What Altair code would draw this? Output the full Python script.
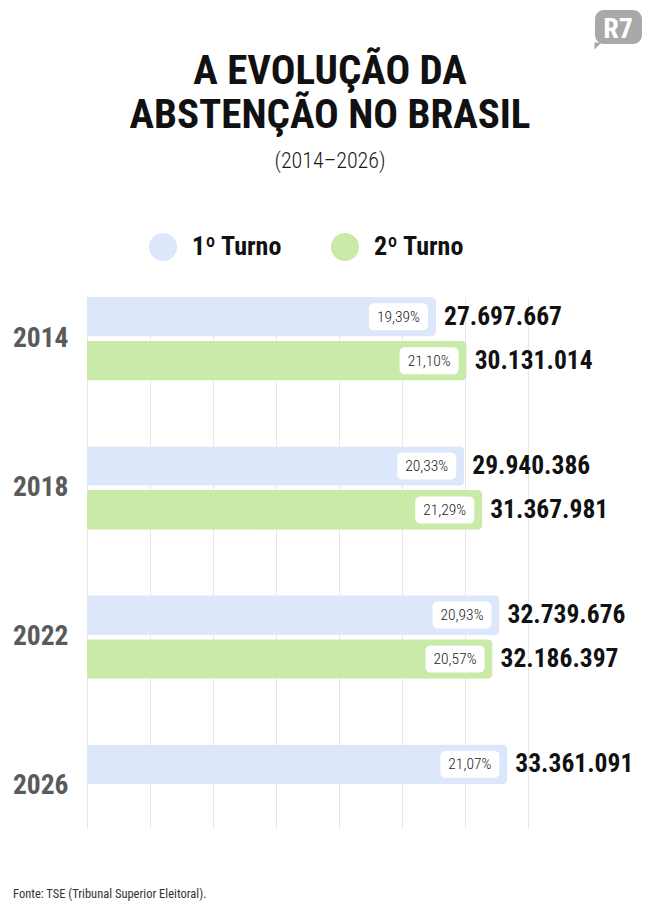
import altair as alt
import pandas as pd

# Abstenção por ano e turno (TSE)
years = ["2014", "2018", "2022", "2026"]
rounds = ["1º Turno", "2º Turno"]
first_round = [27697667, 29940386, 32739676, 33361091]
second_round = [30131014, 31367981, 32186397, None]
first_pct = [19.39, 20.33, 20.93, 21.07]
second_pct = [21.10, 21.29, 20.57, None]

grid_values = [0, 5_000_000, 10_000_000, 15_000_000, 20_000_000,
               25_000_000, 30_000_000, 35_000_000]

BLUE = "#dde7fb"
GREEN = "#c9eaa9"
NARROW = "'Roboto Condensed', 'DejaVu Sans Condensed', Roboto, sans-serif"

rows = []
for i, year in enumerate(years):
    for turno, vals, pcts in ((rounds[0], first_round, first_pct),
                              (rounds[1], second_round, second_pct)):
        if vals[i] is None:
            continue
        rows.append({
            "ano": year,
            "turno": turno,
            "abstencao": vals[i],
            "rotulo": f"{vals[i]:,}".replace(",", "."),
            "pct": f"{pcts[i]:.2f}".replace(".", ",") + "%",
        })
df = pd.DataFrame(rows)

W, H = 441, 531

x_enc = alt.X(
    "abstencao:Q",
    scale=alt.Scale(domain=[0, 35_000_000], nice=False, zero=True),
    axis=alt.Axis(values=grid_values, labels=False, ticks=False, domain=False,
                  grid=True, gridColor="#e8e8e8", gridWidth=1, title=None),
)
y_enc = alt.Y(
    "ano:N",
    sort=years,
    scale=alt.Scale(paddingInner=0.44, paddingOuter=0),
    axis=alt.Axis(title=None, ticks=False, domain=False, labelFont=NARROW,
                  labelFontWeight="bold", labelFontSize=27.5, labelColor="#5a5a5a",
                  labelPadding=19),
)
yoff_enc = alt.YOffset("turno:N", sort=rounds,
                       scale=alt.Scale(domain=rounds, paddingInner=0.1, paddingOuter=0))

base = alt.Chart(df)

bars = base.mark_bar(cornerRadiusEnd=5).encode(
    x=x_enc,
    y=y_enc,
    yOffset=yoff_enc,
    color=alt.Color(
        "turno:N",
        scale=alt.Scale(domain=rounds, range=[BLUE, GREEN]),
        legend=alt.Legend(
            orient="none", legendX=62, legendY=-64, direction="horizontal",
            title=None, symbolType="circle", symbolSize=784, symbolStrokeWidth=0,
            labelFont=NARROW, labelFontWeight="bold", labelFontSize=26,
            labelColor="#111111", labelOffset=15, columnPadding=48, padding=0,
        ),
    ),
)

pct_box = base.mark_bar(color="white", cornerRadius=5, xOffset=-67, x2Offset=-8,
                        size=27).encode(
    x="abstencao:Q",
    x2=alt.X2("abstencao:Q"),
    y=alt.Y("ano:N", sort=years),
    yOffset=alt.YOffset("turno:N", sort=rounds),
)

pct_text = base.mark_text(font=NARROW, fontSize=15.5, fontWeight=300,
                          color="#1a1a1a", align="center", baseline="middle",
                          dx=-37.5).encode(
    x="abstencao:Q",
    y=alt.Y("ano:N", sort=years),
    yOffset=alt.YOffset("turno:N", sort=rounds),
    text="pct:N",
)

value_text = base.mark_text(font=NARROW, fontWeight="bold", fontSize=25.5,
                            color="#111111", align="left", baseline="middle",
                            dx=8).encode(
    x="abstencao:Q",
    y=alt.Y("ano:N", sort=years),
    yOffset=alt.YOffset("turno:N", sort=rounds),
    text="rotulo:N",
)


def label(text, x, y, **kw):
    return alt.Chart(pd.DataFrame({"t": [text]})).mark_text(**kw).encode(
        text="t:N", x=alt.value(x), y=alt.value(y))


title1 = label("A EVOLUÇÃO DA", 243, -213, font=NARROW, fontWeight="bold",
               fontSize=41, color="#111111", align="center", baseline="alphabetic")
title2 = label("ABSTENÇÃO NO BRASIL", 243, -169, font=NARROW, fontWeight="bold",
               fontSize=41, color="#111111", align="center", baseline="alphabetic")
subtitle = label("(2014–2026)", 243, -129, font=NARROW, fontSize=22, fontWeight=300,
                 color="#1a1a1a", align="center", baseline="alphabetic")
source = label("Fonte: TSE (Tribunal Superior Eleitoral).", -74, 601, font=NARROW,
               fontSize=12.5, color="#333333", align="left", baseline="alphabetic")

logo_box = alt.Chart(pd.DataFrame({"k": [0]})).mark_rect(
    color="#a9a9a9", cornerRadius=9).encode(
    x=alt.value(508), x2=alt.value(555), y=alt.value(-287), y2=alt.value(-253))
logo_tail = alt.Chart(pd.DataFrame({"k": [0]})).mark_point(
    filled=True, color="#a9a9a9", opacity=1, size=50,
    shape="M-1,-1 L1,-1 L-1,1 Z").encode(x=alt.value(511), y=alt.value(-251))
logo_text = label("R7", 531, -259, font=NARROW, fontWeight="bold", fontSize=28,
                  color="white", align="center", baseline="alphabetic")

chart = alt.layer(
    bars, pct_box, pct_text, value_text,
    title1, title2, subtitle, source, logo_box, logo_tail, logo_text,
).properties(
    width=W,
    height=H,
    autosize=alt.AutoSizeParams(type="none"),
    padding={"left": 87, "top": 297, "right": 132, "bottom": 90},
    background="white",
).configure_view(stroke=None)

chart.save("out.html", embed_options={"renderer": "svg", "actions": False})
